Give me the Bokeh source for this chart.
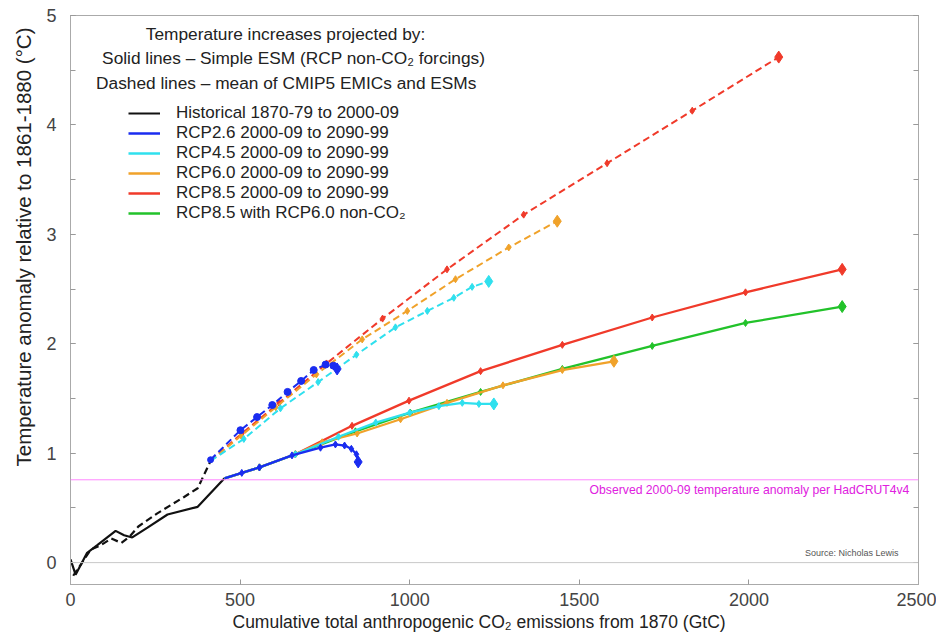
from bokeh.plotting import figure
from bokeh.models import Range1d, Span, Label, Legend, LegendItem, SingleIntervalTicker, LinearAxis, Title
from bokeh.embed import file_html
from bokeh.resources import INLINE

FONT = "Liberation Sans"

# ---------------- data (GtC, degC) ----------------
hist_solid_x = [0, 15, 49, 79, 133, 158, 182, 227, 286, 375, 454]
hist_solid_y = [0.03, -0.11, 0.09, 0.16, 0.29, 0.25, 0.23, 0.32, 0.44, 0.51, 0.77]
hist_dash_x = [8, 30, 60, 90, 120, 150, 175, 200, 256, 335, 375, 413]
hist_dash_y = [-0.12, -0.02, 0.12, 0.16, 0.22, 0.18, 0.24, 0.33, 0.45, 0.60, 0.68, 0.93]

# Solid lines - simple ESM
rcp26_x = [454, 505, 557, 653, 737, 781, 808, 828, 843, 848]
rcp26_y = [0.77, 0.82, 0.87, 0.98, 1.05, 1.08, 1.07, 1.04, 0.99, 0.92]
rcp45_x = [454, 557, 663, 790, 900, 1000, 1086, 1155, 1204, 1248]
rcp45_y = [0.77, 0.87, 0.99, 1.15, 1.28, 1.37, 1.43, 1.46, 1.45, 1.45]
rcp60_x = [454, 557, 663, 742, 845, 973, 1110, 1275, 1450, 1602]
rcp60_y = [0.77, 0.87, 0.99, 1.10, 1.18, 1.31, 1.46, 1.62, 1.76, 1.84]
rcp85_x = [454, 557, 663, 830, 998, 1209, 1450, 1715, 1990, 2275]
rcp85_y = [0.77, 0.87, 0.99, 1.25, 1.48, 1.75, 1.99, 2.24, 2.47, 2.68]
rcp85_60_x = [454, 557, 663, 840, 1002, 1209, 1450, 1715, 1990, 2275]
rcp85_60_y = [0.77, 0.87, 0.99, 1.20, 1.37, 1.56, 1.77, 1.98, 2.19, 2.34]

# Dashed lines - mean of CMIP5 EMICs and ESMs
d26_x = [413, 501, 550, 595, 640, 680, 717, 752, 775, 786]
d26_y = [0.94, 1.21, 1.33, 1.44, 1.56, 1.66, 1.76, 1.81, 1.80, 1.77]
d45_x = [413, 511, 619, 730, 843, 958, 1052, 1130, 1184, 1233]
d45_y = [0.93, 1.13, 1.41, 1.65, 1.90, 2.15, 2.30, 2.42, 2.52, 2.57]
d60_x = [413, 503, 605, 725, 860, 993, 1135, 1292, 1435]
d60_y = [0.93, 1.16, 1.42, 1.72, 2.04, 2.30, 2.59, 2.88, 3.12]
d85_x = [413, 505, 615, 755, 920, 1110, 1336, 1582, 1833, 2088]
d85_y = [0.93, 1.18, 1.46, 1.82, 2.23, 2.68, 3.18, 3.65, 4.13, 4.62]

observed_2000s = 0.757

labels = ["Historical 1870-79 to 2000-09",
          "RCP2.6 2000-09 to 2090-99",
          "RCP4.5 2000-09 to 2090-99",
          "RCP6.0 2000-09 to 2090-99",
          "RCP8.5 2000-09 to 2090-99",
          "RCP8.5 with RCP6.0 non-CO\u2082"]

C_BLACK = "#111111"
C_BLUE = "#1a2cf0"
C_CYAN = "#2fe0ee"
C_ORANGE = "#f0a22a"
C_RED = "#f03a2a"
C_GREEN = "#22c22a"

p = figure(width=936, height=637, x_range=Range1d(0, 2500), y_range=Range1d(-0.2, 5),
           output_backend="svg", toolbar_location=None,
           min_border_left=70, min_border_right=18, min_border_top=15, min_border_bottom=53)
p.xgrid.visible = False
p.ygrid.visible = False
p.outline_line_color = "#aaaaaa"
p.background_fill_color = "white"

# reference lines
p.add_layout(Span(location=0, dimension="width", line_color="#c8c8c8", line_width=1))
p.add_layout(Span(location=observed_2000s, dimension="width", line_color="#ff88ff", line_width=1))

def series(xs, ys, color, dash="solid", lw=2.3, end_size=12, mid_size=7, marker="diamond"):
    r = p.line(xs, ys, line_color=color, line_width=lw, line_dash=dash)
    p.scatter(xs[1:-1], ys[1:-1], marker=marker, size=mid_size, color=color)
    p.scatter([xs[-1]], [ys[-1]], marker="diamond", size=end_size, color=color)
    return r

# historical
r_hist = p.line(hist_solid_x, hist_solid_y, line_color=C_BLACK, line_width=2.2)
p.line(hist_dash_x, hist_dash_y, line_color=C_BLACK, line_width=2.2, line_dash="7 4")

# dashed projections
series(d85_x, d85_y, C_RED, dash="7 4", lw=2)
series(d60_x, d60_y, C_ORANGE, dash="7 4", lw=2)
series(d45_x, d45_y, C_CYAN, dash="7 4", lw=2)
series(d26_x, d26_y, C_BLUE, dash="7 4", lw=2, mid_size=7, marker="circle")
p.scatter([d26_x[0]], [d26_y[0]], marker="circle", size=6, color=C_BLUE)

# solid projections
r85 = series(rcp85_x, rcp85_y, C_RED)
r8560 = series(rcp85_60_x, rcp85_60_y, C_GREEN)
r60 = series(rcp60_x, rcp60_y, C_ORANGE)
r45 = series(rcp45_x, rcp45_y, C_CYAN)
r26 = series(rcp26_x, rcp26_y, C_BLUE)

# axes
tick_color = "#444444"
p.xaxis.ticker = SingleIntervalTicker(interval=500, num_minor_ticks=0)
p.yaxis.ticker = SingleIntervalTicker(interval=1, num_minor_ticks=2)
for ax in [p.xaxis[0], p.yaxis[0]]:
    ax.axis_line_color = "#aaaaaa"
    ax.major_tick_in = 5
    ax.major_tick_out = 0
    ax.minor_tick_in = 5
    ax.minor_tick_out = 0
    ax.major_tick_line_color = "#999999"
    ax.minor_tick_line_color = "#999999"
    ax.major_label_text_font = FONT
    ax.major_label_text_font_size = "18px"
    ax.major_label_text_color = tick_color
p.xaxis.minor_tick_line_color = None
p.xaxis.major_label_standoff = 8
p.yaxis.major_label_standoff = 14

right = LinearAxis(ticker=SingleIntervalTicker(interval=1, num_minor_ticks=2),
                   major_label_text_font_size="0px", major_label_text_color=None,
                   axis_line_color="#aaaaaa", major_tick_in=5, major_tick_out=0,
                   minor_tick_in=5, minor_tick_out=0,
                   major_tick_line_color="#999999", minor_tick_line_color="#999999")
p.add_layout(right, "right")

# axis titles as side titles (off-centre like the original)
p.add_layout(Title(text="Temperature anomaly relative to 1861-1880 (\u00b0C)",
                   align="right", offset=12, standoff=17, text_font=FONT,
                   text_font_size="20.5px", text_font_style="normal",
                   text_color="#222222"), "left")
p.add_layout(Title(text="Cumulative total anthropogenic CO\u2082 emissions from 1870 (GtC)",
                   align="left", offset=162, standoff=2, text_font=FONT,
                   text_font_size="17.5px", text_font_style="normal",
                   text_color="#222222"), "below")

# annotations
title_lines = ["Temperature increases projected by:",
               "Solid lines \u2013 Simple ESM (RCP non-CO\u2082 forcings)",
               "Dashed lines \u2013 mean of CMIP5 EMICs and ESMs"]
title_pos = [(634, 4.83), (658, 4.61), (636, 4.38)]
for t, (x, y) in zip(title_lines, title_pos):
    p.add_layout(Label(x=x, y=y, text=t, text_align="center", text_baseline="middle",
                       text_font=FONT, text_font_size="17.3px", text_color="#222222"))

p.add_layout(Label(x=2473, y=0.66, text="Observed 2000-09 temperature anomaly per HadCRUT4v4",
                   text_align="right", text_baseline="middle", text_font=FONT,
                   text_font_size="12.2px", text_color="#e020e0"))
p.add_layout(Label(x=2441, y=0.09, text="Source: Nicholas Lewis",
                   text_align="right", text_baseline="middle", text_font=FONT,
                   text_font_size="9px", text_color="#555555"))

legend = Legend(items=[LegendItem(label=l, renderers=[r]) for l, r in
                       zip(labels, [r_hist, r26, r45, r60, r85, r8560])],
                location=(58, 361), padding=0, margin=0, spacing=0,
                label_height=20, glyph_height=20, glyph_width=32, label_standoff=16,
                border_line_color=None, background_fill_alpha=0,
                label_text_font=FONT, label_text_font_size="17px",
                label_text_color="#222222")
p.add_layout(legend)

open("out.html", "w").write(file_html(p, INLINE))
